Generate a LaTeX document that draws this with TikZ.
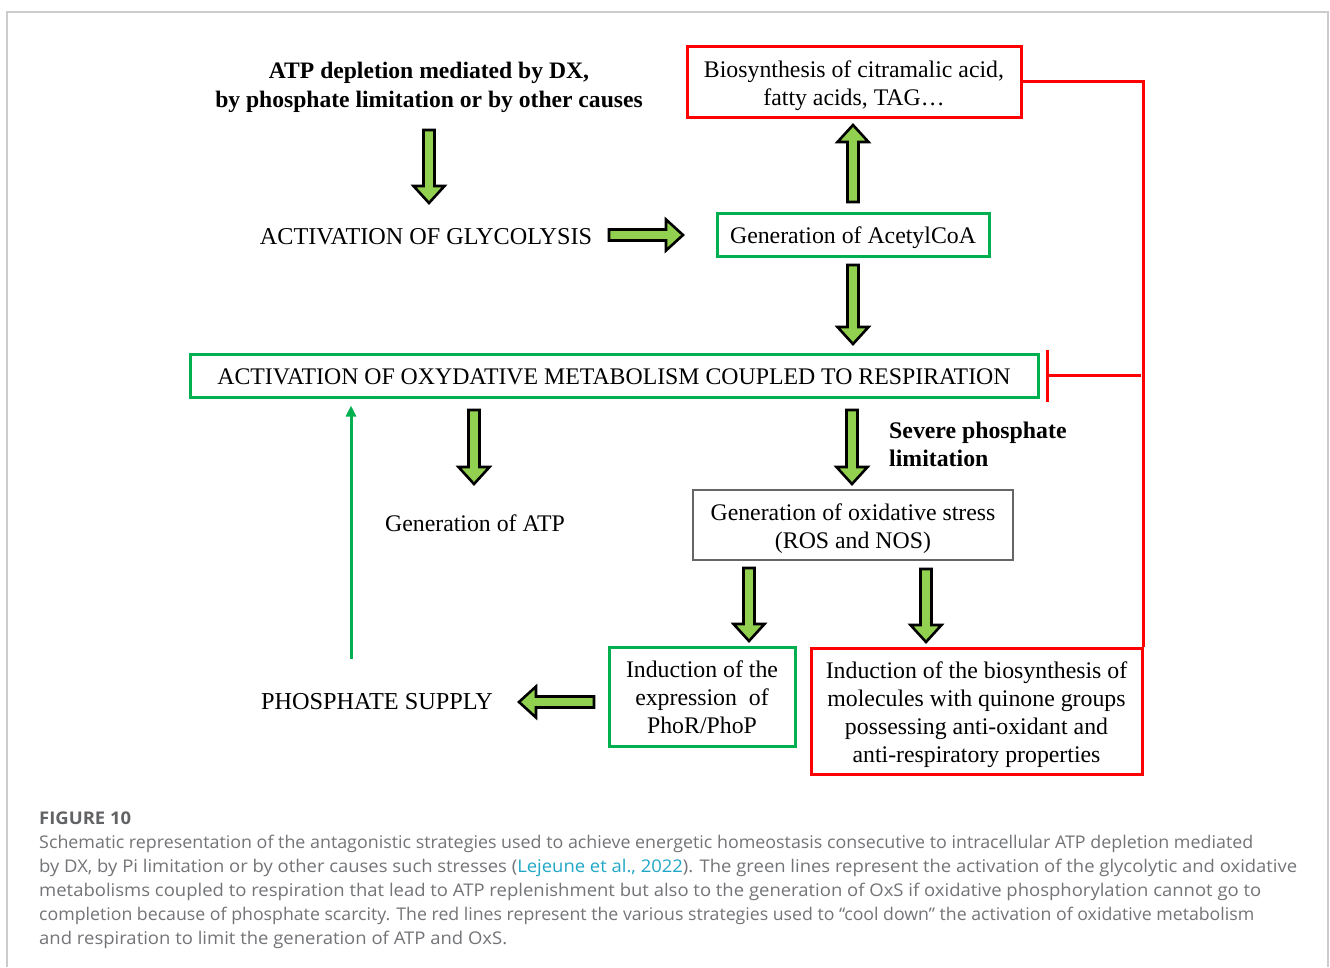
\documentclass[tikz,border=0pt]{standalone}
\usepackage{fontspec}
\usepackage{graphicx}
\setmainfont{Liberation Serif}
\newfontfamily\capfont{Open Sans}
\usetikzlibrary{calc,arrows.meta}
\definecolor{arrfill}{HTML}{92D050}
\definecolor{boxgreen}{HTML}{00B050}
\definecolor{boxred}{HTML}{FF0000}
\definecolor{capgray}{HTML}{737477}
\definecolor{caplink}{HTML}{21A7C6}
\definecolor{framegray}{HTML}{CCCCCC}
\newcommand\lowtext[2]{\raisebox{-#1}[\height][\depth]{\begin{tabular}{@{}c@{}}#2\end{tabular}}}
\newcommand\capfit[2]{\resizebox{#1}{\height}{#2}}
\tikzset{
  dtext/.style={font=\fontsize{23.8}{28}\selectfont, align=center, inner sep=0pt},
  greenbox/.style={dtext, draw=boxgreen, line width=3pt},
  redbox/.style={dtext, draw=boxred, line width=3pt},
  graybox/.style={dtext, draw=black!60, line width=1.3pt},
  blockarr/.style={draw=black, fill=arrfill, line width=2.6pt, line join=miter},
  redline/.style={draw=boxred, line width=3pt},
  greenline/.style={draw=boxgreen, line width=3pt},
  capline/.style={font=\capfont\fontsize{17.5}{24}\selectfont, text=capgray, anchor=base west, inner sep=0pt},
}
\newcommand\blockarrow[2]{%
 \draw[blockarr] let \p1=(#1),\p2=(#2),\n1={atan2(\y2-\y1,\x2-\x1)},\n2={veclen(\x2-\x1,\y2-\y1)-17} in
 ($(\p1)+(\n1+90:5.5pt)$) -- ($(\p1)+(\n1:\n2)+(\n1+90:5.5pt)$) -- ($(\p1)+(\n1:\n2)+(\n1+90:15.5pt)$) -- (\p2) -- ($(\p1)+(\n1:\n2)+(\n1-90:15.5pt)$) -- ($(\p1)+(\n1:\n2)+(\n1-90:5.5pt)$) -- ($(\p1)+(\n1-90:5.5pt)$) -- cycle;}
\begin{document}
\begin{tikzpicture}[x=1pt,y=-1pt]
\useasboundingbox (0,0) rectangle (1330,967);
\fill[white] (0,0) rectangle (1330,967);
\draw[framegray, line width=1.5pt] (7,967) -- (7,12) -- (1328,12) -- (1328,967);

% nodes
\node[dtext, font=\bfseries\fontsize{23.6}{29}\selectfont] (atp) at (429,87.5) {ATP depletion mediated by DX,\\by phosphate limitation or by other causes};
\node[dtext, font=\fontsize{24.2}{28}\selectfont] (glyc) at (426,237) {ACTIVATION OF GLYCOLYSIS};
\node[greenbox, minimum width=272pt, minimum height=43pt] (acoa) at (853,234.5) {\lowtext{3pt}{Generation of AcetylCoA}};
\node[redbox, minimum width=334pt, minimum height=71pt] (bios) at (854,81.5) {\lowtext{4pt}{Biosynthesis of citramalic acid,\\fatty acids, TAG\ldots}};
\node[greenbox, minimum width=848pt, minimum height=43pt] (oxy) at (614,375.5) {\lowtext{3pt}{ACTIVATION OF OXYDATIVE METABOLISM COUPLED TO RESPIRATION}};
\node[dtext, font=\bfseries\fontsize{23.8}{28}\selectfont, align=left, anchor=west] (severe) at (889,444) {Severe phosphate\\limitation};
\node[dtext] (genatp) at (475,523) {Generation of ATP};
\node[graybox, minimum width=320pt, minimum height=70pt] (stress) at (853,525) {\lowtext{4pt}{Generation of oxidative stress\\(ROS and NOS)}};
\node[greenbox, minimum width=186pt, minimum height=99pt] (phor) at (702,696.5) {\lowtext{3pt}{Induction of the\\expression\ \ of\\PhoR/PhoP}};
\node[redbox, minimum width=331pt, minimum height=126pt] (quin) at (976.5,711) {\lowtext{4pt}{Induction of the biosynthesis of\\molecules with quinone groups\\possessing anti-oxidant and\\anti-respiratory properties}};
\node[dtext, font=\fontsize{24.3}{28}\selectfont] (psup) at (377,702) {PHOSPHATE SUPPLY};

% block arrows
\coordinate (a1s) at (429,130); \coordinate (a1e) at (429,203);
\blockarrow{a1s}{a1e}
\coordinate (a2s) at (609,235); \coordinate (a2e) at (683,235);
\blockarrow{a2s}{a2e}
\coordinate (a3s) at (853,202); \coordinate (a3e) at (853,125);
\blockarrow{a3s}{a3e}
\coordinate (a4s) at (853,265); \coordinate (a4e) at (853,344);
\blockarrow{a4s}{a4e}
\coordinate (a5s) at (474,410); \coordinate (a5e) at (474,484);
\blockarrow{a5s}{a5e}
\coordinate (a6s) at (852,410); \coordinate (a6e) at (852,484);
\blockarrow{a6s}{a6e}
\coordinate (a7s) at (749,568); \coordinate (a7e) at (749,641);
\blockarrow{a7s}{a7e}
\coordinate (a8s) at (926,569); \coordinate (a8e) at (926,642);
\blockarrow{a8s}{a8e}
\coordinate (a9s) at (594,702); \coordinate (a9e) at (519,702);
\blockarrow{a9s}{a9e}

% green feedback line
\coordinate (gl) at (351,659);
\draw[greenline, -{Triangle[length=11pt,width=10pt]}] (gl) -- ([yshift=-7pt]gl |- oxy.south);
% red lines
\draw[redline] (bios.east) -| (quin.north east);
\coordinate (rv) at (1141,375.5);
\coordinate (inh) at (1046,375.5);
\draw[redline, -{Bar[width=52pt]}] (rv) -- (inh);

% caption
\node[capline, font=\capfont\bfseries\fontsize{17.5}{24}\selectfont, text=capgray!85!black] (fig) at (39,824) {\capfit{92pt}{FIGURE 10}};
\node[capline] (c1) at (39,848) {\capfit{1214pt}{Schematic representation of the antagonistic strategies used to achieve energetic homeostasis consecutive to intracellular ATP depletion mediated}};
\node[capline] (c2) at (39,872) {\capfit{1258pt}{by DX, by Pi limitation or by other causes such stresses (\textcolor{caplink}{Lejeune et al., 2022}). The green lines represent the activation of the glycolytic and oxidative}};
\node[capline] (c3) at (39,896) {\capfit{1222pt}{metabolisms coupled to respiration that lead to ATP replenishment but also to the generation of OxS if oxidative phosphorylation cannot go to}};
\node[capline] (c4) at (39,920) {\capfit{1215pt}{completion because of phosphate scarcity. The red lines represent the various strategies used to “cool down” the activation of oxidative metabolism}};
\node[capline] (c5) at (39,944) {\capfit{468pt}{and respiration to limit the generation of ATP and OxS.}};
\end{tikzpicture}
\end{document}
